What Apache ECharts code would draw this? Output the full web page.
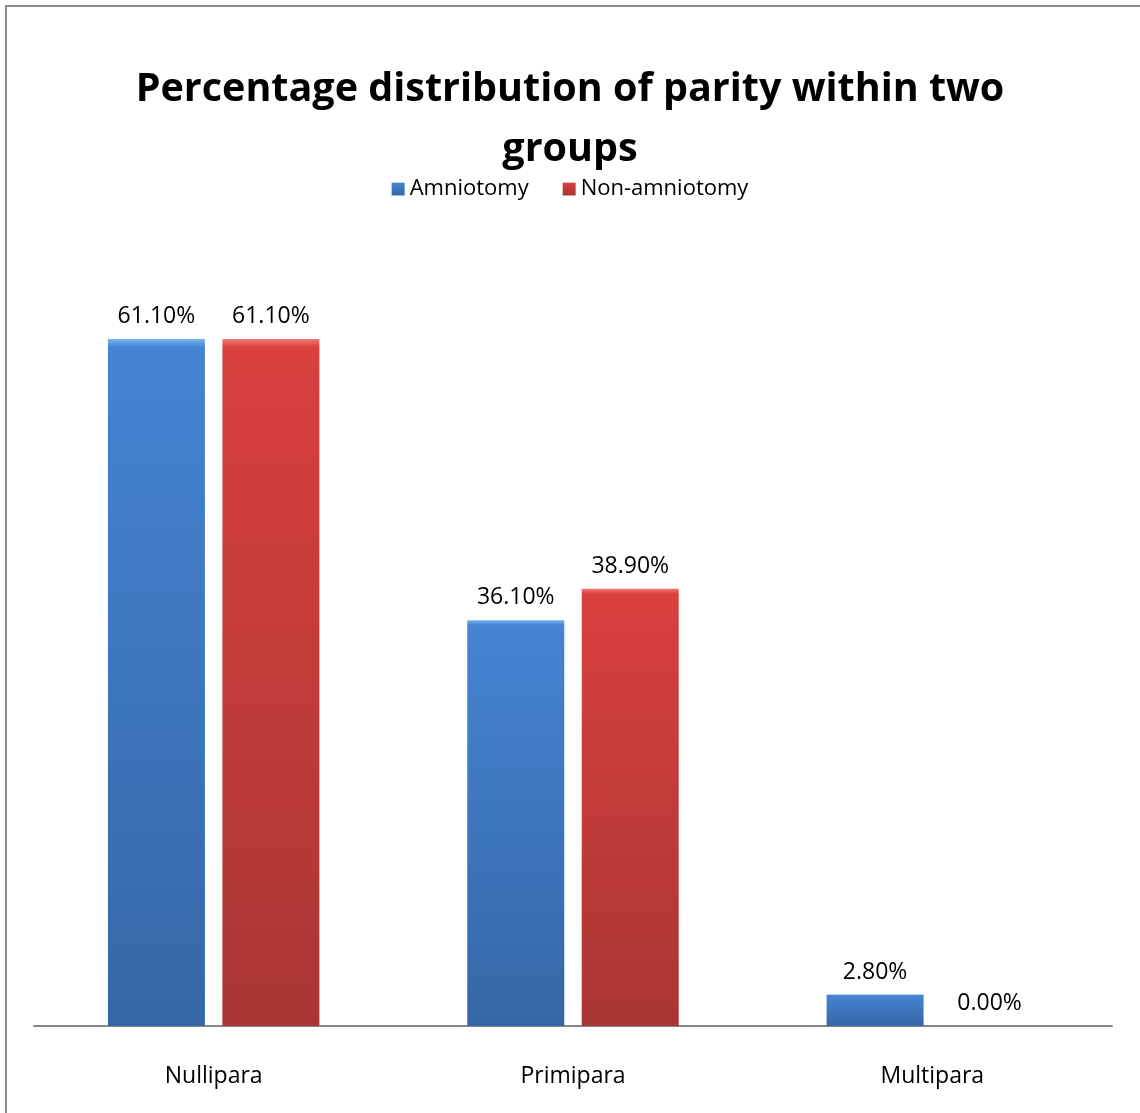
<!DOCTYPE html>
<html>
<head>
<meta charset="utf-8">
<script src="https://cdn.jsdelivr.net/npm/echarts@6/dist/echarts.min.js"></script>
<style>
  html, body { margin: 0; padding: 0; background: #ffffff; }
  #chart { width: 1140px; height: 1113px; }
</style>
</head>
<body>
<div id="chart"></div>
<script>
// Parity groups and the share of each within the two study arms (%)
const categories = ['Nullipara', 'Primipara', 'Multipara'];
const amniotomy = [61.1, 36.1, 2.8];
const nonAmniotomy = [61.1, 38.9, 0.0];
const seriesNames = ['Amniotomy', 'Non-amniotomy'];

const FONT = '"Open Sans", Lato, sans-serif';

function barFill(light, top, bottom) {
  return new echarts.graphic.LinearGradient(0, 0, 0, 1, [
    { offset: 0, color: light },
    { offset: 0.012, color: top },
    { offset: 1, color: bottom }
  ]);
}

const valueLabel = {
  show: true,
  position: 'top',
  distance: 11,
  fontFamily: FONT,
  fontSize: 23,
  color: '#000000',
  formatter: p => p.value.toFixed(2) + '%'
};

const chart = echarts.init(document.getElementById('chart'), null, { renderer: 'canvas' });

chart.setOption({
  backgroundColor: '#ffffff',
  animation: false,
  title: {
    text: 'Percentage distribution of parity within two\ngroups',
    left: 'center',
    top: 55,
    textStyle: {
      fontFamily: FONT,
      fontWeight: 'bold',
      fontSize: 39.5,
      lineHeight: 60,
      color: '#000000'
    }
  },
  legend: {
    top: 173,
    left: 'center',
    itemWidth: 13,
    itemHeight: 13,
    itemGap: 34,
    icon: 'rect',
    textStyle: { fontFamily: FONT, fontSize: 22, color: '#000000' },
    data: seriesNames
  },
  grid: { left: 34, right: 28, top: 239, bottom: 87 },
  xAxis: {
    type: 'category',
    data: categories,
    axisLine: { lineStyle: { color: '#888888', width: 2 } },
    axisTick: { show: false },
    axisLabel: {
      fontFamily: FONT,
      fontSize: 23,
      color: '#000000',
      margin: 39
    }
  },
  yAxis: {
    type: 'value',
    min: 0,
    max: 70,
    show: false,
    splitLine: { show: false }
  },
  series: [
    {
      name: seriesNames[0],
      type: 'bar',
      data: amniotomy,
      barWidth: 97,
      barGap: '18%',
      itemStyle: { color: barFill('#79b4f2', '#4584d3', '#3567a6') },
      label: valueLabel
    },
    {
      name: seriesNames[1],
      type: 'bar',
      data: nonAmniotomy,
      barWidth: 97,
      itemStyle: { color: barFill('#f27a77', '#d9403e', '#a83634') },
      label: valueLabel
    }
  ],
  graphic: [
    {
      type: 'rect',
      shape: { x: 6, y: 6, width: 1300, height: 1300 },
      style: { fill: 'none', stroke: '#8c8c8c', lineWidth: 2 },
      silent: true,
      z: 100
    }
  ]
});
</script>
</body>
</html>
